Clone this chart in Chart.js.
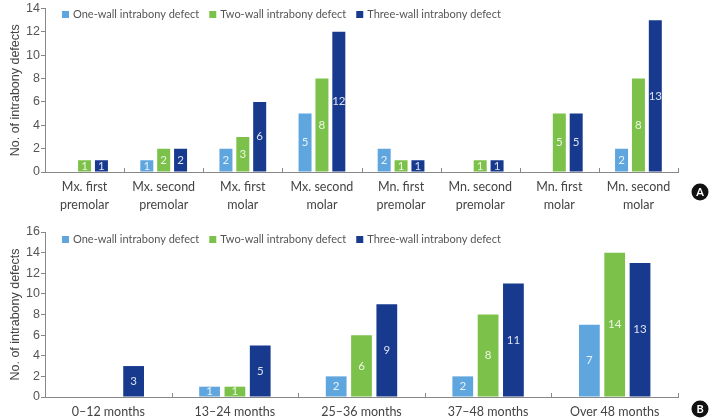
<!DOCTYPE html>
<html>
<head>
<meta charset="utf-8">
<script src="https://cdn.jsdelivr.net/npm/chart.js@4"></script>
<style>
html,body{margin:0;padding:0;background:#fff;}
#wrapA{position:absolute;left:0;top:0;width:714px;height:214px;}
#wrapB{position:absolute;left:0;top:214px;width:714px;height:206px;}
</style>
</head>
<body>
<div id="wrapA"><canvas id="chartA"></canvas></div>
<div id="wrapB"><canvas id="chartB"></canvas></div>
<script>
let seriesNames=["One-wall intrabony defect","Two-wall intrabony defect","Three-wall intrabony defect"];
let seriesColors=["#5fa6de","#7cc24a","#173a8e"];

let toothLabels=[["Mx. first","premolar"],["Mx. second","premolar"],["Mx. first","molar"],["Mx. second","molar"],
["Mn. first","premolar"],["Mn. second","premolar"],["Mn. first","molar"],["Mn. second","molar"]];
let toothOne=[0,1,2,5,2,0,0,2];
let toothTwo=[1,2,3,8,1,1,5,8];
let toothThree=[1,2,6,12,1,1,5,13];
let toothTicks=[0,2,4,6,8,10,12,14];

let timeLabels=["0\u201312 months","13\u201324 months","25\u201336 months","37\u201348 months","Over 48 months"];
let timeOne=[0,1,2,2,7];
let timeTwo=[0,1,6,8,14];
let timeThree=[3,5,9,11,13];
let timeTicks=[0,2,4,6,8,10,12,14,16];

let txtFont="Lato";

// labels inside bars, legend inside plot, category ticks, badge
let extras={
id:"extras",
afterDatasetsDraw(chart,args,opt){
let ctx=chart.ctx;
ctx.save();
ctx.font="11.5px "+txtFont;
ctx.textAlign="center";
ctx.textBaseline="middle";
chart.data.datasets.forEach((ds,i)=>{
let meta=chart.getDatasetMeta(i);
meta.data.forEach((bar,j)=>{
let v=ds.data[j];
if(!v) return;
ctx.fillStyle="rgba(255,255,255,0.85)";
ctx.fillText(String(v),bar.x,(bar.y+bar.base)/2);
});
});
ctx.restore();
},
afterDraw(chart,args,opt){
let ctx=chart.ctx;
let area=chart.chartArea;
let xs=chart.scales.x;
ctx.save();
// boundary ticks on x axis
ctx.strokeStyle="#888";
ctx.lineWidth=1;
let n=chart.data.labels.length;
for(let i=1;i<=n;i++){
let x=i<n?(xs.getPixelForTick(i-1)+xs.getPixelForTick(i))/2:area.right;
x=Math.round(x)+0.5;
ctx.beginPath();
ctx.moveTo(x,area.bottom-4);
ctx.lineTo(x,area.bottom);
ctx.stroke();
}
// legend
ctx.font="11px "+txtFont;
ctx.textBaseline="middle";
ctx.textAlign="left";
let lx=opt.legendX;
seriesNames.forEach((name,i)=>{
ctx.fillStyle=seriesColors[i];
ctx.fillRect(lx,opt.legendY-3,7,7);
ctx.fillStyle="#555";
ctx.fillText(name,lx+11,opt.legendY);
lx+=11+ctx.measureText(name).width+10;
});
// badge
ctx.beginPath();
ctx.fillStyle="#111";
ctx.arc(opt.badgeX,opt.badgeY,8.5,0,Math.PI*2);
ctx.fill();
ctx.fillStyle="#fff";
ctx.font="bold 11px "+txtFont;
ctx.textAlign="center";
ctx.fillText(opt.badge,opt.badgeX,opt.badgeY+0.5);
ctx.restore();
}
};

function buatChart(id,labels,one,two,three,ticks,cfg){
let ctx=document.getElementById(id);
return new Chart(ctx,{
type:"bar",
data:{
labels:labels,
datasets:[
{label:seriesNames[0],data:one,backgroundColor:seriesColors[0]},
{label:seriesNames[1],data:two,backgroundColor:seriesColors[1]},
{label:seriesNames[2],data:three,backgroundColor:seriesColors[2]}
]
},
options:{
responsive:true,
maintainAspectRatio:false,
animation:false,
datasets:{bar:{categoryPercentage:cfg.catPct,barPercentage:cfg.barPct}},
layout:{padding:{left:0,right:36,top:cfg.top,bottom:0}},
plugins:{
legend:{display:false},
tooltip:{enabled:false},
extras:{legendX:62,legendY:cfg.legendY,badgeX:700,badgeY:cfg.badgeY,badge:cfg.badge}
},
scales:{
x:{
grid:{display:false,drawTicks:false},
border:{display:true,color:"#888"},
ticks:{color:"#444",font:{family:txtFont,size:12.5,lineHeight:1.45},padding:6,maxRotation:0,autoSkip:false},
afterFit(s){s.height=cfg.xh;}
},
y:{
min:0,max:ticks[ticks.length-1],
afterBuildTicks(s){s.ticks=ticks.map(v=>({value:v}));},
grid:{drawOnChartArea:false,drawTicks:true,tickLength:4,color:"#888"},
border:{display:true,color:"#888"},
ticks:{color:"#555",font:{family:"Liberation Sans",size:12.5},padding:1},
title:{display:true,text:"No. of intrabony defects",color:"#444",font:{family:"Liberation Sans",size:12.5},padding:{top:8,bottom:0}},
afterFit(s){s.width=45;}
}
}
},
plugins:[extras]
});
}

buatChart("chartA",toothLabels,toothOne,toothTwo,toothThree,toothTicks,
{catPct:0.64,barPct:0.77,top:7,xh:42,legendY:14,badgeY:192,badge:"A"});
buatChart("chartB",timeLabels,timeOne,timeTwo,timeThree,timeTicks,
{catPct:0.6,barPct:0.82,top:18,xh:23,legendY:25,badgeY:195,badge:"B"});
</script>
</body>
</html>
